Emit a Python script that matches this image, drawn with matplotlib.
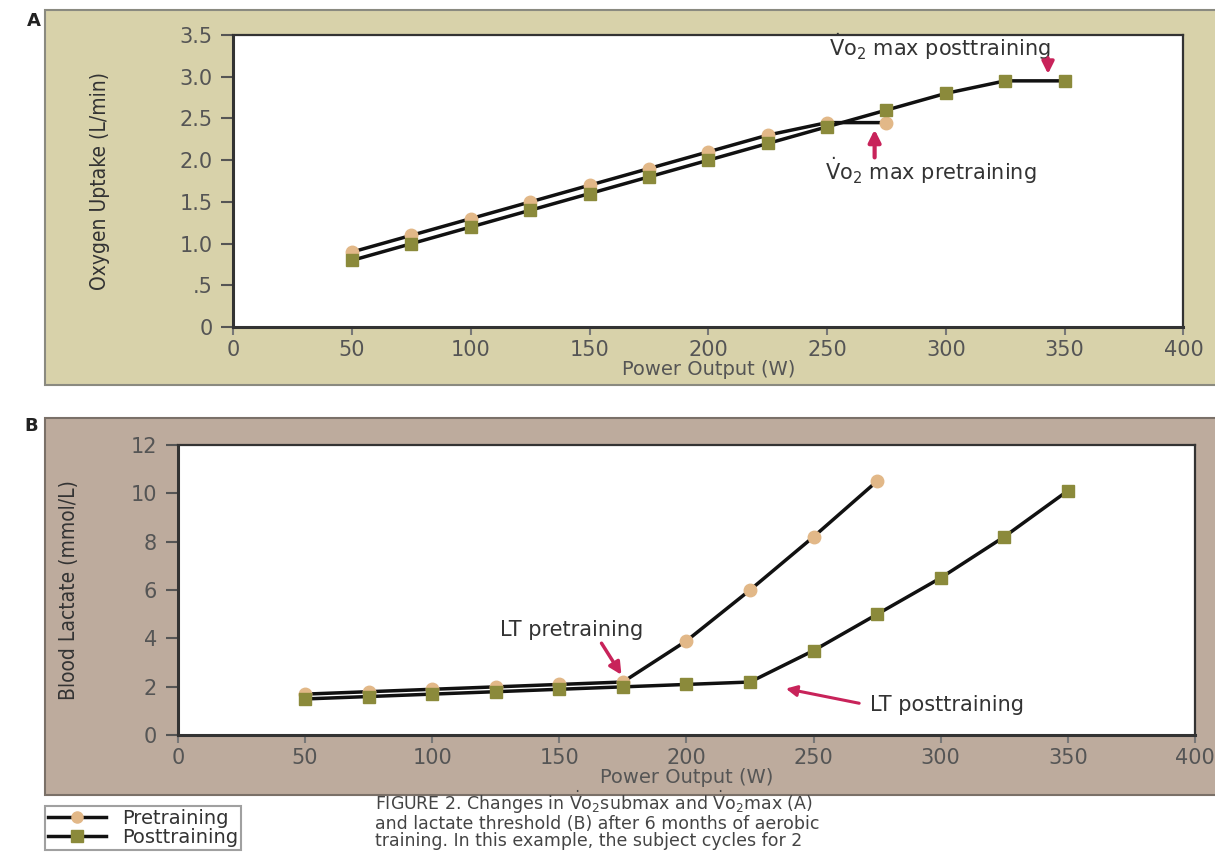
import matplotlib
matplotlib.use('Agg')
import matplotlib.pyplot as plt
from matplotlib.patches import Rectangle
from matplotlib.lines import Line2D

# Panel A: oxygen uptake vs power output
power_pre = [50, 75, 100, 125, 150, 175, 200, 225, 250, 275]
power_post = [50, 75, 100, 125, 150, 175, 200, 225, 250, 275, 300, 325, 350]
vo2_pre = [0.9, 1.1, 1.3, 1.5, 1.7, 1.9, 2.1, 2.3, 2.45, 2.45]
vo2_post = [0.8, 1.0, 1.2, 1.4, 1.6, 1.8, 2.0, 2.2, 2.4, 2.6, 2.8, 2.95, 2.95]

# Panel B: blood lactate vs power output
lac_pre = [1.7, 1.8, 1.9, 2.0, 2.1, 2.2, 3.9, 6.0, 8.2, 10.5]
lac_post = [1.5, 1.6, 1.7, 1.8, 1.9, 2.0, 2.1, 2.2, 3.5, 5.0, 6.5, 8.2, 10.1]

x_ticks = [0, 50, 100, 150, 200, 250, 300, 350, 400]
a_yticks = [0, 0.5, 1.0, 1.5, 2.0, 2.5, 3.0, 3.5]
a_ylabels = ['0', '.5', '1.0', '1.5', '2.0', '2.5', '3.0', '3.5']
b_yticks = [0, 2, 4, 6, 8, 10, 12]

PRE_COL = '#e2b888'
POST_COL = '#8b8a3b'
ARROW_COL = '#c8235a'
TXT = '#555555'

plt.rcParams['font.family'] = ['DejaVu Sans']
plt.rcParams['mathtext.fontset'] = 'dejavusans'

fig = plt.figure(figsize=(12.15, 8.52), dpi=100)

# panel backgrounds
fig.add_artist(Rectangle((0.037, 0.548), 0.97, 0.440, transform=fig.transFigure,
                         facecolor='#d8d2aa', edgecolor='#8a8a80', lw=1.5, zorder=0))
fig.add_artist(Rectangle((0.037, 0.067), 0.97, 0.442, transform=fig.transFigure,
                         facecolor='#bdab9d', edgecolor='#7a7068', lw=1.5, zorder=0))
fig.text(0.022, 0.975, 'A', fontsize=13, fontweight='bold', color='#222222', va='center')
fig.text(0.020, 0.500, 'B', fontsize=13, fontweight='bold', color='#222222', va='center')


def style_axes(ax, yticks, ylabels, ylabel, label_x):
    ax.set_facecolor('white')
    ax.set_xlim(0, 400)
    ax.set_xticks(x_ticks)
    ax.set_yticks(yticks)
    ax.set_yticklabels(ylabels)
    for s in ['left', 'bottom']:
        ax.spines[s].set_linewidth(2.2)
        ax.spines[s].set_color('#333333')
    for s in ['top', 'right']:
        ax.spines[s].set_linewidth(1.6)
        ax.spines[s].set_color('#333333')
    ax.tick_params(axis='y', direction='out', length=9, width=1.5, color='#555555',
                   labelsize=15, labelcolor=TXT, pad=6)
    ax.tick_params(axis='x', direction='out', length=6, width=1.5, color='#777777',
                   labelsize=15, labelcolor=TXT, pad=3)
    ax.set_xlabel('Power Output (W)', fontsize=14, color=TXT, labelpad=0)
    ax.set_ylabel(ylabel, fontsize=15, color='#333333',
                  family=['Liberation Sans Narrow', 'DejaVu Sans'], fontstretch='condensed')
    ax.yaxis.set_label_coords(label_x, 0.5)


# ---- Panel A ----
axA = fig.add_axes([0.192, 0.616, 0.782, 0.343])
axA.plot(power_pre, vo2_pre, color='#111111', lw=2.5, marker='o', ms=9,
         mfc=PRE_COL, mec=PRE_COL, zorder=3)
axA.plot(power_post, vo2_post, color='#111111', lw=2.5, marker='s', ms=9,
         mfc=POST_COL, mec=POST_COL, zorder=4)
axA.set_ylim(0, 3.5)
style_axes(axA, a_yticks, a_ylabels, 'Oxygen Uptake (L/min)', -0.13)

vo2 = r'$\dot{\mathrm{V}}\mathrm{o}_2$'
axA.text(251, 3.36, vo2 + ' max posttraining', fontsize=15, color='#333333', va='center')
axA.annotate('', xy=(343, 3.0), xytext=(343, 3.26),
             arrowprops=dict(arrowstyle='-|>', color=ARROW_COL, lw=2.5, mutation_scale=18))
axA.text(249, 1.88, vo2 + ' max pretraining', fontsize=15, color='#333333', va='center')
axA.annotate('', xy=(270, 2.4), xytext=(270, 2.0),
             arrowprops=dict(arrowstyle='-|>', color=ARROW_COL, lw=3, mutation_scale=18))

# ---- Panel B ----
axB = fig.add_axes([0.1465, 0.137, 0.837, 0.341])
axB.plot(power_pre, lac_pre, color='#111111', lw=2.5, marker='o', ms=9,
         mfc=PRE_COL, mec=PRE_COL, zorder=3)
axB.plot(power_post, lac_post, color='#111111', lw=2.5, marker='s', ms=9,
         mfc=POST_COL, mec=POST_COL, zorder=4)
axB.set_ylim(0, 12)
style_axes(axB, b_yticks, [str(v) for v in b_yticks], 'Blood Lactate (mmol/L)', -0.097)

axB.text(155, 4.35, 'LT pretraining', fontsize=15, color='#333333', ha='center', va='center')
axB.annotate('', xy=(175, 2.4), xytext=(166, 3.9),
             arrowprops=dict(arrowstyle='-|>', color=ARROW_COL, lw=2.5, mutation_scale=18))
axB.text(272, 1.25, 'LT posttraining', fontsize=15, color='#333333', va='center')
axB.annotate('', xy=(238, 1.95), xytext=(269, 1.3),
             arrowprops=dict(arrowstyle='-|>', color=ARROW_COL, lw=2.2, mutation_scale=16))

# ---- Legend ----
handles = [
    Line2D([], [], color='#111111', lw=2.5, marker='o', ms=8, mfc=PRE_COL, mec=PRE_COL),
    Line2D([], [], color='#111111', lw=2.5, marker='s', ms=8, mfc=POST_COL, mec=POST_COL),
]
leg = fig.legend(handles, ['Pretraining', 'Posttraining'], loc='upper left',
                 bbox_to_anchor=(0.037, 0.054), fontsize=14, frameon=True, fancybox=False,
                 handlelength=3.0, labelspacing=0.0, borderpad=0.15, numpoints=1,
                 handletextpad=0.8, borderaxespad=0.0,
                 edgecolor='#888888', labelcolor='#333333')
leg.get_frame().set_linewidth(1.5)

# ---- Caption ----
caption = ('FIGURE 2. Changes in ' + vo2 + 'submax and ' + vo2 + 'max (A)\n'
           'and lactate threshold (B) after 6 months of aerobic\n'
           'training. In this example, the subject cycles for 2')
fig.text(0.309, 0.002, caption, fontsize=12.5, color='#444444', va='bottom', ha='left',
         linespacing=0.95)

plt.savefig('out.png', dpi=100)
